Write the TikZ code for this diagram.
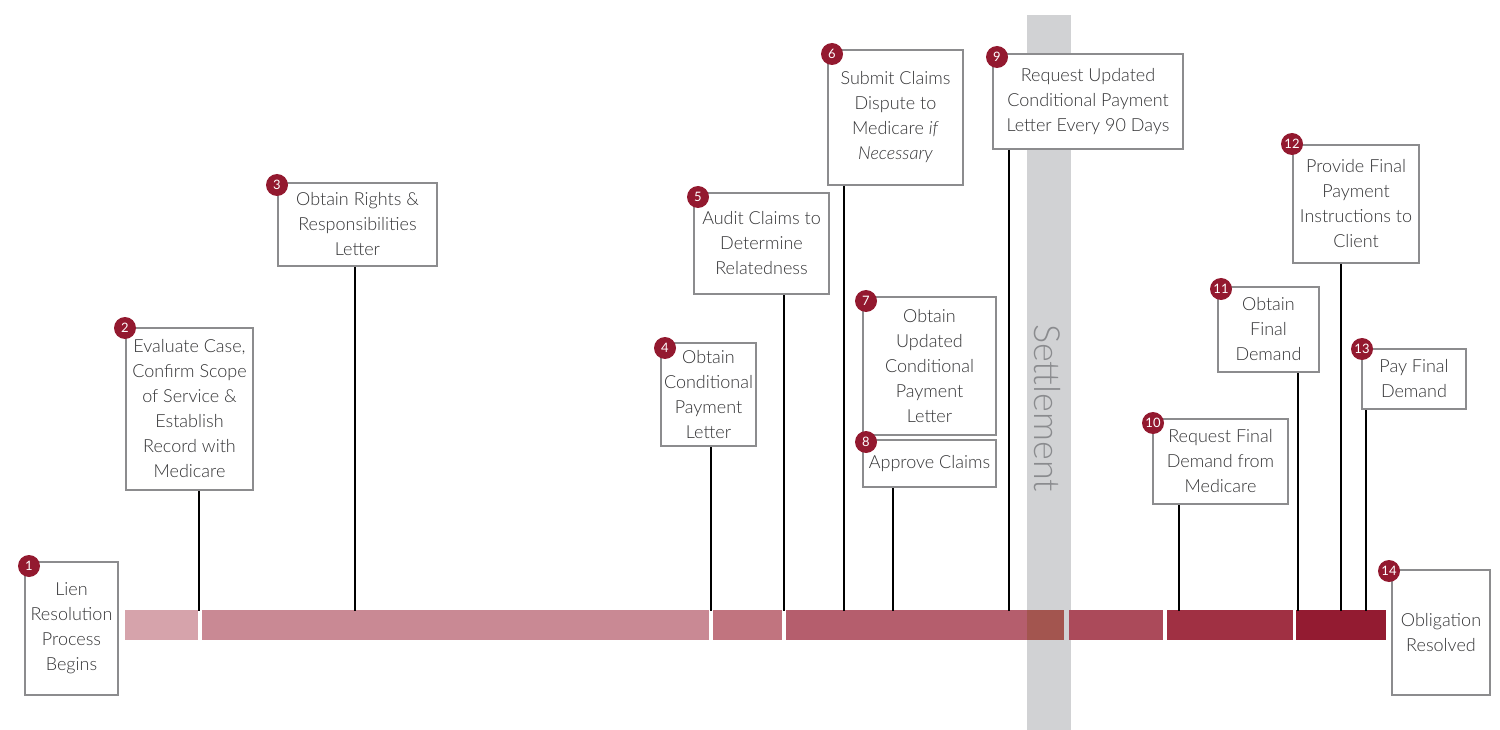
\documentclass[tikz,border=0pt]{standalone}
\usepackage{fontspec}
\setmainfont{Lato}[UprightFont={* Light},ItalicFont={* Light Italic},BoldFont={* Regular}]
\definecolor{txt}{HTML}{333335}
\definecolor{bord}{HTML}{8C8C8E}
\definecolor{settxt}{HTML}{8A8B8E}
\definecolor{num}{HTML}{93192F}
\definecolor{band}{HTML}{D1D2D4}
\definecolor{s1}{HTML}{D6A3AB}
\definecolor{s2}{HTML}{C98994}
\definecolor{s3}{HTML}{C1747F}
\definecolor{s4}{HTML}{B55E6D}
\definecolor{s4o}{HTML}{A3554F}
\definecolor{s5}{HTML}{AB4A5A}
\definecolor{s6}{HTML}{A03043}
\definecolor{s7}{HTML}{931B31}
\tikzset{
  stepbox/.style={draw=bord, line width=2pt, fill=white, text=txt, align=center,
    inner sep=0pt, font=\fontsize{18}{25}\selectfont},
  badge/.style={circle, fill=num, text=white, inner sep=0pt, minimum size=22pt,
    font=\fontsize{13}{13}\selectfont\bfseries},
  leader/.style={draw=black, line width=2pt},
}
\begin{document}
\begin{tikzpicture}[x=1pt,y=-1pt]
\useasboundingbox (0,0) rectangle (1500,730);
% settlement band
\fill[band] (1027,15) rectangle (1071,730);
\node[rotate=-90, text=settxt, font=\fontsize{36}{36}\selectfont] (settle) at (1047,408) {Settlement};
% bar
\fill[s1] (125,610) rectangle (198,640);
\fill[s2] (202,610) rectangle (709,640);
\fill[s3] (713,610) rectangle (782,640);
\fill[s4] (786,610) rectangle (1064,640);
\fill[s4o] (1027,610) rectangle (1064,640);
\fill[s5] (1069,610) rectangle (1163,640);
\fill[s6] (1167,610) rectangle (1293,640);
\fill[s7] (1296,610) rectangle (1386,640);
% boxes
\node[stepbox, minimum width=93pt, minimum height=133pt] (b1) at (71.5,628.5) {Lien\\Resolution\\Process\\Begins};
\node[stepbox, minimum width=127pt, minimum height=162pt] (b2) at (189.5,409) {Evaluate Case,\\Confirm Scope\\of Service \&\\Establish\\Record with\\Medicare};
\node[stepbox, minimum width=159pt, minimum height=83pt] (b3) at (357.5,224.5) {Obtain Rights \&\\Responsibilities\\Letter};
\node[stepbox, minimum width=95pt, minimum height=103pt] (b4) at (708.5,394.5) {Obtain\\Conditional\\Payment\\Letter};
\node[stepbox, minimum width=135pt, minimum height=101pt] (b5) at (761.5,243.5) {Audit Claims to\\Determine\\Relatedness};
\node[stepbox, minimum width=135pt, minimum height=135pt] (b6) at (895.5,117.5) {Submit Claims\\Dispute to\\Medicare \textit{if}\\\textit{Necessary}};
\node[stepbox, minimum width=133pt, minimum height=138pt] (b7) at (929.5,366) {Obtain\\Updated\\Conditional\\Payment\\Letter};
\node[stepbox, minimum width=133pt, minimum height=47pt] (b8) at (929.5,463.5) {Approve Claims};
\node[stepbox, minimum width=190pt, minimum height=95pt] (b9) at (1088,101.5) {Request Updated\\Conditional Payment\\Letter Every 90 Days};
\node[stepbox, minimum width=135pt, minimum height=85pt] (b10) at (1220.5,461.5) {Request Final\\Demand from\\Medicare};
\node[stepbox, minimum width=101pt, minimum height=85pt] (b11) at (1268.5,329.5) {Obtain\\Final\\Demand};
\node[stepbox, minimum width=126pt, minimum height=118pt] (b12) at (1356,204) {Provide Final\\Payment\\Instructions to\\Client};
\node[stepbox, minimum width=104pt, minimum height=60pt] (b13) at (1414,379) {Pay Final\\Demand};
\node[stepbox, minimum width=98pt, minimum height=125pt] (b14) at (1441,632.5) {Obligation\\Resolved};
% leader lines
\foreach \b/\x in {2/199,3/355,4/711,5/784,6/844,8/893,9/1009,10/1179,11/1298,12/1341,13/1366}{
  \coordinate (t\b) at (\x,611);
  \draw[leader] (b\b.south -| t\b) -- (t\b);
}
% badges
\node[badge] (c1) at (29,566) {1};
\node[badge] (c2) at (125,328) {2};
\node[badge] (c3) at (277,185) {3};
\node[badge] (c4) at (665,348) {4};
\node[badge] (c5) at (698,197) {5};
\node[badge] (c6) at (832,54) {6};
\node[badge] (c7) at (866,301) {7};
\node[badge] (c8) at (866,442) {8};
\node[badge] (c9) at (997,57) {9};
\node[badge] (c10) at (1153,423) {10};
\node[badge] (c11) at (1221,289) {11};
\node[badge] (c12) at (1292,144) {12};
\node[badge] (c13) at (1362,349) {13};
\node[badge] (c14) at (1389,571) {14};
\end{tikzpicture}
\end{document}
